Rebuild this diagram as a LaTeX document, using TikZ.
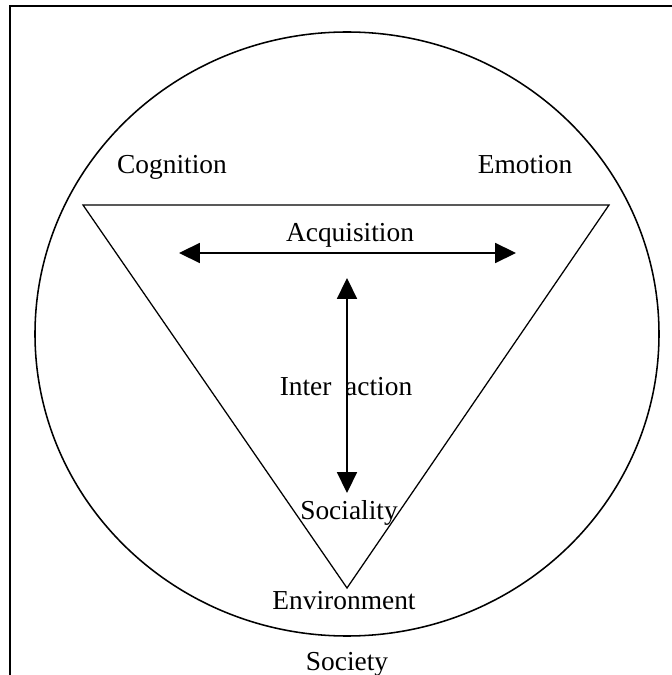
\documentclass[tikz,border=0pt]{standalone}
\usepackage{fontspec}
\setmainfont{Liberation Serif}
\usetikzlibrary{arrows.meta}

\begin{document}
\begin{tikzpicture}[
  lbl/.style={anchor=base, inner sep=0pt, font=\fontsize{19.5}{23}\selectfont},
  twohead/.style={line width=1pt, {Triangle[length=5.2mm,width=5mm]}-{Triangle[length=5.2mm,width=5mm]}}
]
\useasboundingbox (0,0) rectangle (16.8,16.875);
\draw[line width=1.4pt] (16.8,16.725) -- (0.25,16.725) -- (0.25,0);
\draw[line width=1.1pt] (8.675,8.525) ellipse (7.8cm and 7.55cm);
\draw[line width=0.9pt] (2.075,11.75) -- (15.225,11.75) -- (8.675,2.175) -- cycle;

\node[lbl] (cognition) at (4.3,12.525) {Cognition};
\node[lbl] (emotion) at (13.125,12.525) {Emotion};
\node[lbl] (acquisition) at (8.75,10.825) {Acquisition};
\node[lbl] (interaction) at (8.65,6.975) {Inter\ \ action};
\node[lbl] (sociality) at (8.725,3.9) {Sociality};
\node[lbl] (environment) at (8.6,1.65) {Environment};
\node[lbl] (society) at (8.675,0.125) {Society};

\coordinate (acqleft) at (4.475,10.55);
\coordinate (acqright) at (12.9,10.55);
\coordinate (intertop) at (8.675,9.925);
\coordinate (interbottom) at (8.675,4.55);
\draw[twohead] (acqleft) -- (acqright);
\draw[twohead] (intertop) -- (interbottom);
\end{tikzpicture}
\end{document}
